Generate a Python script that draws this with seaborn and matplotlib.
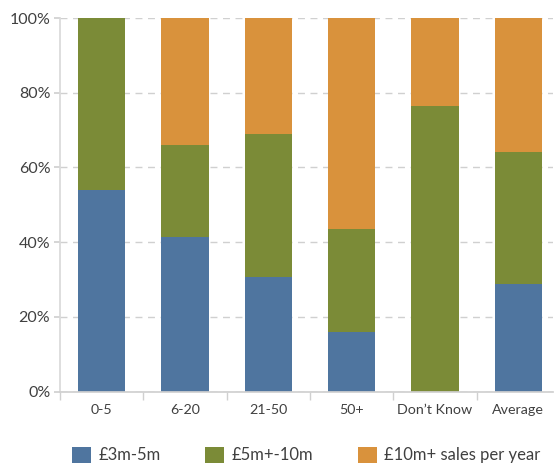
import matplotlib
matplotlib.use("Agg")
import matplotlib.pyplot as plt
import seaborn as sns
import numpy as np
import pandas as pd
from matplotlib.patches import Patch
from matplotlib.ticker import FixedLocator, PercentFormatter

categories = ["0-5", "6-20", "21-50", "50+", "Don\u2019t Know", "Average"]
s_3_5 = [54.0, 41.4, 30.6, 16.1, 0.0, 28.8]
s_5_10 = [46.0, 24.6, 38.3, 27.4, 76.5, 35.4]
s_10p = [0.0, 34.0, 31.1, 56.5, 23.5, 35.8]
series_names = ["\u00a33m-5m", "\u00a35m+-10m", "\u00a310m+ sales per year"]
colors = ["#4F759F", "#7B8B37", "#D9923C"]

sns.set_theme(style="white")
plt.rcParams["font.family"] = ["Lato", "DejaVu Sans"]
txt = "#404040"

fig = plt.figure(figsize=(5.54, 4.69), dpi=100, facecolor="white")
unit = 500 / 6.0
right_lim = -0.5 + 493 / unit
ax = fig.add_axes([60/554, (469-391.7)/469, 493/554, 373.7/469])

b = np.array(s_3_5)
g = b + np.array(s_5_10)
o = g + np.array(s_10p)
df = pd.DataFrame({"cat": categories, "blue": b, "green": g, "orange": o})

for col, c in zip(["orange", "green", "blue"], colors[::-1]):
    sns.barplot(data=df, x="cat", y=col, color=c, width=0.565, ax=ax,
                saturation=1, linewidth=0)

ax.set_xlim(-0.5, right_lim)
ax.set_ylim(0, 100)
ax.yaxis.set_major_locator(FixedLocator([0, 20, 40, 60, 80, 100]))
ax.yaxis.set_major_formatter(PercentFormatter(decimals=0))
ax.grid(axis="y", color="#D0D0D0", linestyle=(0, (5, 4)), linewidth=1)
ax.grid(axis="x", visible=False)
ax.set_axisbelow(True)
for s in ["top", "right"]:
    ax.spines[s].set_visible(False)
ax.spines["left"].set_color("#D9D9D9")
ax.spines["bottom"].set_color("#D0D0D0")
ax.set_xlabel("")
ax.set_ylabel("")
ax.tick_params(axis="y", length=4, color="#D0D0D0", labelsize=11.5, labelcolor=txt, pad=3, left=True, right=False)
ax.tick_params(axis="x", which="major", length=0, labelsize=10.3, labelcolor=txt, pad=9)
ax.xaxis.set_minor_locator(FixedLocator(np.arange(-0.5, 5.0, 1.0)))
ax.tick_params(axis="x", which="minor", length=6, color="#D0D0D0", bottom=True)

handles = [Patch(facecolor=c, edgecolor="none") for c in colors]
fig.legend(handles, series_names, loc="center", bbox_to_anchor=(0.553, 0.030),
           ncol=3, frameon=False, fontsize=12, handlelength=1.12, handleheight=1.12,
           columnspacing=2.7, handletextpad=0.45, labelcolor=txt)

fig.savefig("out.png", dpi=100, facecolor="white")
